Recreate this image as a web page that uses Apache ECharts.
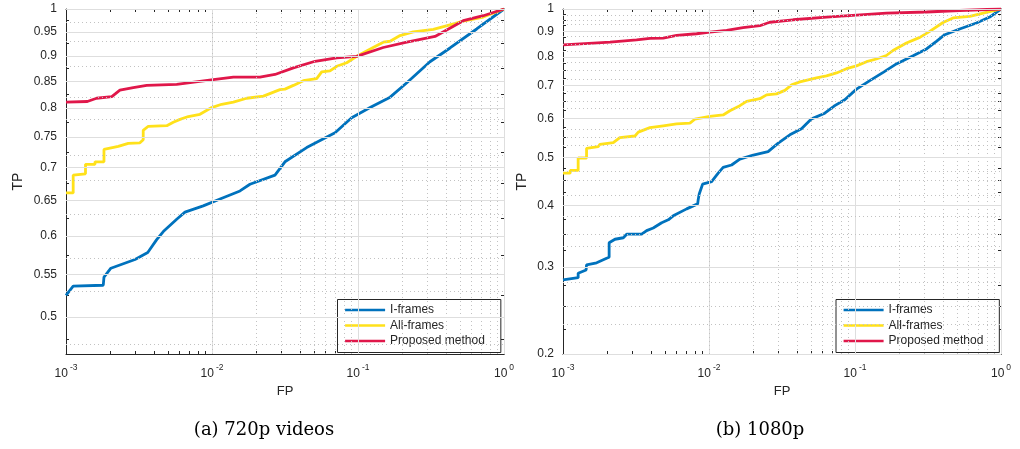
<!DOCTYPE html>
<html>
<head>
<meta charset="utf-8">
<script src="https://cdn.jsdelivr.net/npm/echarts@6.0.0/dist/echarts.min.js"></script>
<style>
  html, body { margin: 0; padding: 0; background: #fff; }
  #chart { width: 1020px; height: 449px; }
</style>
</head>
<body>
<div id="chart"></div>
<script>
// ---- data: [FP, TP] pairs ----
var seriesNames = ['I-frames', 'All-frames', 'Proposed method'];
var seriesColors = ['#0072BD', '#FFE11A', '#E0174A'];

// (a) 720p videos
var iframes720 = [[0.001,0.525],[0.00112,0.536],[0.0018,0.537],[0.00182,0.547],[0.00203,0.558],[0.00297,0.569],[0.00363,0.578],[0.00418,0.595],[0.00464,0.606],[0.00573,0.623],[0.00653,0.633],[0.00871,0.642],[0.01135,0.652],[0.01555,0.664],[0.0182,0.674],[0.027,0.688],[0.0316,0.709],[0.0445,0.732],[0.0696,0.757],[0.0905,0.783],[0.121,0.801],[0.166,0.820],[0.216,0.847],[0.311,0.888],[0.427,0.916],[0.65,0.956],[1,1]];
var allframes720 = [[0.001,0.661],[0.00112,0.661],[0.00112,0.688],[0.00136,0.690],[0.00136,0.705],[0.00158,0.705],[0.00158,0.709],[0.00182,0.709],[0.00182,0.729],[0.00228,0.734],[0.00267,0.739],[0.00321,0.740],[0.00338,0.745],[0.00338,0.761],[0.00366,0.768],[0.0049,0.769],[0.00543,0.775],[0.00604,0.780],[0.00688,0.785],[0.00827,0.789],[0.00995,0.801],[0.01165,0.807],[0.014,0.811],[0.0173,0.818],[0.0225,0.822],[0.0292,0.834],[0.0316,0.835],[0.0361,0.842],[0.0422,0.851],[0.0521,0.855],[0.0564,0.868],[0.0643,0.870],[0.0715,0.879],[0.0837,0.886],[0.098,0.899],[0.127,0.917],[0.149,0.928],[0.166,0.930],[0.194,0.942],[0.239,0.950],[0.328,0.955],[0.427,0.965],[0.526,0.973],[0.721,0.982],[1,1]];
var proposed720 = [[0.001,0.811],[0.0014,0.812],[0.00162,0.818],[0.00206,0.821],[0.00234,0.833],[0.00289,0.838],[0.00357,0.842],[0.00573,0.844],[0.0102,0.853],[0.014,0.858],[0.0213,0.858],[0.027,0.863],[0.0361,0.876],[0.0508,0.889],[0.0715,0.896],[0.098,0.899],[0.149,0.917],[0.216,0.928],[0.337,0.940],[0.526,0.974],[0.721,0.985],[1,1]];

// (b) 1080p
var iframes1080 = [[0.001,0.2825],[0.00127,0.2855],[0.00127,0.2914],[0.00144,0.296],[0.00145,0.303],[0.0017,0.306],[0.00199,0.3126],[0.00207,0.314],[0.00207,0.336],[0.00227,0.3416],[0.00259,0.344],[0.00273,0.3497],[0.00346,0.3497],[0.00374,0.3556],[0.00415,0.360],[0.00474,0.369],[0.00526,0.374],[0.00569,0.381],[0.00703,0.3936],[0.00836,0.4029],[0.00843,0.4105],[0.00857,0.422],[0.00904,0.4416],[0.01042,0.447],[0.01156,0.465],[0.0125,0.4775],[0.01428,0.483],[0.01627,0.4963],[0.0201,0.506],[0.0254,0.514],[0.0298,0.535],[0.0358,0.556],[0.043,0.572],[0.0504,0.599],[0.0621,0.615],[0.0727,0.637],[0.0851,0.655],[0.1024,0.688],[0.1263,0.716],[0.156,0.744],[0.192,0.774],[0.25,0.804],[0.309,0.830],[0.361,0.860],[0.412,0.887],[0.521,0.911],[0.679,0.937],[0.837,0.963],[1,1]];
var allframes1080 = [[0.001,0.465],[0.00112,0.465],[0.00112,0.471],[0.00127,0.471],[0.00127,0.499],[0.00145,0.499],[0.00145,0.522],[0.00174,0.526],[0.00179,0.532],[0.00221,0.536],[0.00245,0.549],[0.00311,0.553],[0.00328,0.563],[0.00394,0.575],[0.00486,0.580],[0.006,0.585],[0.0074,0.587],[0.008,0.598],[0.01014,0.606],[0.0125,0.610],[0.0139,0.622],[0.01627,0.637],[0.0181,0.650],[0.0223,0.658],[0.0248,0.670],[0.029,0.673],[0.0331,0.684],[0.0368,0.702],[0.0419,0.712],[0.0545,0.725],[0.0638,0.732],[0.0747,0.742],[0.0875,0.757],[0.1024,0.767],[0.12,0.782],[0.14,0.792],[0.164,0.805],[0.182,0.824],[0.225,0.853],[0.278,0.876],[0.325,0.901],[0.401,0.939],[0.469,0.959],[0.611,0.966],[0.794,0.984],[1,1]];
var proposed1080 = [[0.001,0.846],[0.00161,0.853],[0.0021,0.857],[0.00319,0.866],[0.00394,0.872],[0.00486,0.873],[0.006,0.884],[0.00822,0.891],[0.01014,0.898],[0.0132,0.905],[0.0171,0.917],[0.0223,0.925],[0.0261,0.940],[0.0377,0.951],[0.0638,0.963],[0.1024,0.972],[0.164,0.981],[0.309,0.986],[0.521,0.993],[1,1]];

// ---- ticks ----
var xTicks = [0.001, 0.01, 0.1, 1];
var xMinor = [0.002,0.003,0.004,0.005,0.006,0.007,0.008,0.009,0.02,0.03,0.04,0.05,0.06,0.07,0.08,0.09,0.2,0.3,0.4,0.5,0.6,0.7,0.8,0.9];
var yTicks720 = [0.5,0.55,0.6,0.65,0.7,0.75,0.8,0.85,0.9,0.95,1];
var yMinor720 = [0.475,0.525,0.575,0.625,0.675,0.725,0.775,0.825,0.875,0.925,0.975];
var yTicks1080 = [0.2,0.3,0.4,0.5,0.6,0.7,0.8,0.9,1];
var yMinor1080 = [0.225,0.25,0.275,0.325,0.35,0.375,0.425,0.45,0.475,0.525,0.55,0.575,0.625,0.65,0.675,0.725,0.75,0.775,0.825,0.85,0.875,0.925,0.95,0.975];

var axisColor = '#262626';
var font = 'Liberation Sans';

var chart = echarts.init(document.getElementById('chart'));

function expLabel(v) {
    var e = Math.round(Math.log10(v));
    return '{b|10}{s|' + e + '}';
}

function xAxisCfg(gi, pos) {
    var bottom = pos === 'bottom';
    return {
        type: 'log', logBase: 10, gridIndex: gi, position: pos,
        min: 0.001, max: 1,
        axisLine: {show: true, onZero: false, lineStyle: {color: axisColor, width: 1}},
        axisTick: {show: true, inside: true, length: 3, customValues: xTicks.concat(xMinor), lineStyle: {color: axisColor}},
        axisLabel: {
            show: bottom, customValues: xTicks, formatter: expLabel, margin: 9,
            rich: {
                b: {fontSize: 12, fontFamily: font, color: axisColor, verticalAlign: 'bottom', lineHeight: 17},
                s: {fontSize: 8.5, fontFamily: font, color: axisColor, verticalAlign: 'top', padding: [0, 0, 0, 2]}
            }
        },
        splitLine: {show: false},
        name: bottom ? 'FP' : '', nameLocation: 'middle', nameGap: 31,
        nameTextStyle: {fontSize: 13, fontFamily: font, color: axisColor}
    };
}

function yAxisCfg(gi, pos, min, majors, minors, gap) {
    var left = pos === 'left';
    return {
        type: 'log', logBase: 10, gridIndex: gi, position: pos,
        min: min, max: 1,
        axisLine: {show: true, onZero: false, lineStyle: {color: axisColor, width: 1}},
        axisTick: {show: true, inside: true, length: 3, customValues: majors.concat(minors), lineStyle: {color: axisColor}},
        axisLabel: {
            show: left, customValues: majors, margin: 9,
            fontSize: 12, fontFamily: font, color: axisColor,
            formatter: function (v) { return String(parseFloat(v.toPrecision(6))); }
        },
        splitLine: {show: false},
        name: left ? 'TP' : '', nameLocation: 'middle', nameRotate: 90, nameGap: gap,
        nameTextStyle: {fontSize: 14, fontFamily: font, color: axisColor}
    };
}

var majorStyle = {color: '#dedede', width: 1, type: 'solid'};
var minorStyle = {color: '#c2c2c2', width: 1, type: [1, 3]};

function gridSeries(xi, yi, yMajors, yMinors) {
    var d = [];
    xTicks.forEach(function (v) { d.push({xAxis: v, lineStyle: majorStyle}); });
    xMinor.forEach(function (v) { d.push({xAxis: v, lineStyle: minorStyle}); });
    yMajors.forEach(function (v) { d.push({yAxis: v, lineStyle: majorStyle}); });
    yMinors.forEach(function (v) { d.push({yAxis: v, lineStyle: minorStyle}); });
    return {
        type: 'line', name: 'grid', xAxisIndex: xi, yAxisIndex: yi, data: [],
        silent: true, z: 1,
        markLine: {silent: true, symbol: 'none', label: {show: false}, animation: false, data: d}
    };
}

function curve(i, xi, yi, data) {
    return {
        type: 'line', name: seriesNames[i], xAxisIndex: xi, yAxisIndex: yi,
        data: data, showSymbol: false, symbol: 'none', z: 3,
        lineStyle: {color: seriesColors[i], width: 2.8},
        itemStyle: {color: seriesColors[i]}
    };
}

function legendCfg(left) {
    return {
        data: seriesNames, orient: 'vertical', left: left, top: 299.5,
        padding: [3.6, 16, 4.4, 7.6], itemGap: 1.5,
        icon: 'rect', itemWidth: 40, itemHeight: 2.5,
        borderColor: axisColor, borderWidth: 1, backgroundColor: '#fff',
        textStyle: {fontSize: 12, fontFamily: font, color: axisColor, lineHeight: 14}
    };
}

var option = {
    animation: false,
    backgroundColor: '#fff',
    grid: [
        {left: 66, top: 9, width: 438, height: 345},
        {left: 563, top: 9, width: 438, height: 345}
    ],
    xAxis: [xAxisCfg(0, 'bottom'), xAxisCfg(0, 'top'), xAxisCfg(1, 'bottom'), xAxisCfg(1, 'top')],
    yAxis: [
        yAxisCfg(0, 'left', 0.46, yTicks720, yMinor720, 41),
        yAxisCfg(0, 'right', 0.46, yTicks720, yMinor720, 41),
        yAxisCfg(1, 'left', 0.2, yTicks1080, yMinor1080, 34),
        yAxisCfg(1, 'right', 0.2, yTicks1080, yMinor1080, 34)
    ],
    legend: [legendCfg(337.5), legendCfg(836)],
    series: [
        gridSeries(0, 0, yTicks720, yMinor720),
        curve(0, 0, 0, iframes720),
        curve(1, 0, 0, allframes720),
        curve(2, 0, 0, proposed720),
        gridSeries(2, 2, yTicks1080, yMinor1080),
        curve(0, 2, 2, iframes1080),
        curve(1, 2, 2, allframes1080),
        curve(2, 2, 2, proposed1080)
    ],
    graphic: [
        {type: 'text', style: {x: 264, y: 430, text: '(a) 720p videos', textAlign: 'center', textVerticalAlign: 'middle', font: '18px "DejaVu Serif"', fill: '#000'}},
        {type: 'text', style: {x: 760, y: 430, text: '(b) 1080p', textAlign: 'center', textVerticalAlign: 'middle', font: '18px "DejaVu Serif"', fill: '#000'}}
    ]
};
chart.setOption(option);
</script>
</body>
</html>
